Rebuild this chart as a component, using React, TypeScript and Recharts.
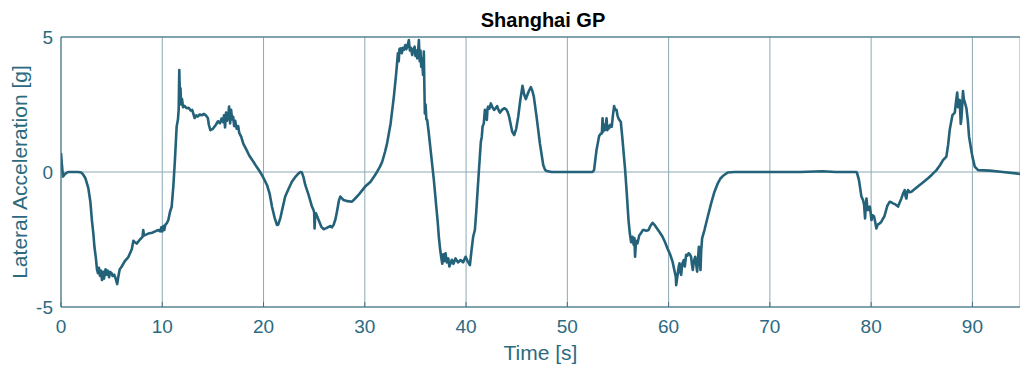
import { LineChart, Line, XAxis, YAxis, CartesianGrid } from "recharts";

// Lateral acceleration trace for one lap, [time s, accel g]
const lapStart: [number, number][] = [
  [0, 0.7], [0.08, 0.3], [0.2, -0.17], [0.4, -0.07], [0.7, 0], [1.2, 0], [1.7, 0], [2.0, -0.02],
  [2.2, -0.1], [2.4, -0.22], [2.7, -0.6], [2.9, -1.1], [3.05, -1.78], [3.2, -2.3], [3.3, -2.77],
  [3.45, -3.2], [3.55, -3.6], [3.65, -3.75], [3.75, -3.55], [3.85, -3.85], [3.95, -3.65],
  [4.05, -4.0], [4.15, -3.7], [4.25, -3.95], [4.4, -3.6], [4.5, -3.8], [4.6, -3.65], [4.75, -3.9],
  [4.85, -3.7], [5.0, -3.75], [5.1, -3.85], [5.25, -3.8], [5.4, -3.95], [5.55, -4.15], [5.65, -3.9],
  [5.8, -3.6], [6.0, -3.5], [6.3, -3.3], [6.65, -3.15], [7.0, -2.85], [7.14, -2.55], [7.3, -2.6],
  [7.47, -2.65], [7.8, -2.5], [8.05, -2.4], [8.12, -2.15], [8.2, -2.35], [8.4, -2.32], [8.62, -2.28],
  [9.0, -2.25], [9.3, -2.2], [9.6, -2.15], [9.8, -2.2], [9.9, -2.05], [10.0, -2.2], [10.1, -2.0],
  [10.2, -2.15], [10.3, -1.95], [10.45, -1.9], [10.6, -1.78], [10.75, -1.5], [10.93, -1.28],
  [11.09, -0.54], [11.25, 0.44],
];

const turns6to10: [number, number][] = [
  [11.42, 1.68], [11.55, 1.95], [11.62, 2.3], [11.68, 3.78], [11.74, 2.8], [11.8, 3.1], [11.86, 2.5],
  [11.95, 2.7], [12.05, 2.4], [12.2, 2.45], [12.4, 2.36], [12.6, 2.38], [12.8, 2.28], [12.95, 2.3],
  [13.1, 2.12], [13.2, 2.0], [13.35, 2.1], [13.5, 2.05], [13.7, 2.13], [13.9, 2.1], [14.1, 2.15],
  [14.3, 2.1], [14.5, 2.0], [14.6, 1.75], [14.75, 1.55], [15.0, 1.6], [15.3, 1.75], [15.5, 1.88],
  [15.7, 1.8], [15.85, 1.98], [16.0, 1.85], [16.1, 2.1], [16.2, 1.65], [16.3, 2.2], [16.4, 1.9],
  [16.5, 2.05], [16.6, 2.42], [16.7, 1.8], [16.8, 2.3], [16.9, 1.95], [17.0, 2.05], [17.1, 1.7],
  [17.2, 1.9], [17.35, 1.6], [17.5, 1.7], [17.6, 1.45], [17.8, 1.3], [18.0, 1.05], [18.33, 0.81],
  [18.6, 0.6], [19.0, 0.38], [19.3, 0.2], [19.65, 0.01], [19.9, -0.15], [20.1, -0.3], [20.34, -0.48],
  [20.6, -0.8], [20.83, -1.28], [21.1, -1.7], [21.32, -1.96], [21.45, -1.95], [21.65, -1.72],
  [21.9, -1.3], [22.14, -0.91], [22.5, -0.6], [22.8, -0.36], [23.1, -0.2], [23.46, -0.05],
  [23.65, 0.0], [23.79, -0.02], [23.95, -0.2], [24.12, -0.48], [24.45, -0.85], [24.78, -1.28],
  [24.94, -1.41], [25.0, -1.5], [25.04, -2.09], [25.1, -1.6], [25.17, -1.53], [25.3, -1.65],
  [25.44, -1.78], [25.7, -2.02], [25.93, -2.12], [26.2, -2.08], [26.43, -2.03], [26.6, -2.0],
  [26.75, -2.05], [26.92, -1.96], [27.1, -1.75], [27.25, -1.47], [27.45, -1.05], [27.58, -0.91],
  [27.75, -0.98], [27.9, -1.04], [28.3, -1.08], [28.73, -1.1], [29.0, -1.0], [29.38, -0.85],
  [29.7, -0.7], [30.04, -0.54], [30.57, -0.36], [31.0, -0.12], [31.22, 0.01], [31.5, 0.2],
  [31.72, 0.38], [32.0, 0.75], [32.2, 1.06], [32.55, 1.8], [32.87, 2.79], [33.1, 3.65],
];

const turns11to13: [number, number][] = [
  [33.27, 4.4], [33.35, 4.1], [33.42, 4.55], [33.53, 4.58], [33.65, 4.4], [33.75, 4.6], [33.86, 4.52],
  [34.0, 4.7], [34.1, 4.55], [34.2, 4.65], [34.35, 4.89], [34.45, 4.5], [34.55, 4.6], [34.68, 4.33],
  [34.8, 4.55], [34.92, 4.64], [35.0, 4.3], [35.1, 4.5], [35.18, 4.21], [35.25, 4.4], [35.34, 4.89],
  [35.42, 4.1], [35.5, 4.5], [35.57, 3.9], [35.65, 4.2], [35.75, 3.6], [35.83, 4.46], [35.88, 3.2],
  [35.93, 2.17], [36.0, 2.5], [36.08, 1.95], [36.16, 1.93], [36.3, 1.5], [36.5, 0.81], [36.82, -0.3],
  [37.09, -1.41], [37.2, -1.85], [37.31, -2.4], [37.45, -2.9], [37.54, -3.14], [37.65, -3.4],
  [37.75, -3.05], [37.85, -3.3], [37.97, -3.01], [38.1, -3.35], [38.25, -3.2], [38.35, -3.5],
  [38.47, -3.38], [38.6, -3.25], [38.75, -3.4], [38.96, -3.2], [39.2, -3.35], [39.46, -3.26],
  [39.7, -3.35], [39.95, -3.14], [40.15, -3.3], [40.38, -3.45], [40.54, -2.89], [40.7, -2.4],
  [40.87, -2.15], [41.0, -1.5], [41.1, -0.91], [41.26, 0.01], [41.46, 1.12], [41.55, 1.3],
  [41.63, 1.68], [41.75, 1.8], [41.86, 2.3], [41.95, 2.1], [42.05, 1.93], [42.12, 2.35],
  [42.18, 2.42], [42.3, 2.35], [42.45, 2.54], [42.6, 2.4], [42.78, 2.3], [42.9, 2.35], [43.07, 2.44],
  [43.2, 2.3], [43.34, 2.2], [43.55, 2.3], [43.76, 2.36], [43.95, 2.33], [44.1, 2.23], [44.25, 2.05],
  [44.39, 1.8], [44.55, 1.5], [44.75, 1.37], [44.95, 1.6], [45.15, 2.05], [45.35, 2.65],
  [45.57, 3.19], [45.75, 2.85], [45.9, 2.7], [46.05, 2.85], [46.2, 3.0], [46.4, 3.14], [46.55, 3.0],
  [46.69, 2.79], [46.96, 2.05], [47.29, 1.06], [47.62, 0.26], [47.8, 0.08], [47.95, 0.04],
  [48.44, 0.0], [50.0, 0.0], [52.48, 0.0],
];

const turns14to16: [number, number][] = [
  [52.64, 0.07], [52.88, 0.81], [53.14, 1.33], [53.3, 1.42], [53.41, 1.43], [53.48, 1.99], [53.55, 1.5],
  [53.65, 1.75], [53.73, 1.56], [53.8, 1.7], [53.87, 1.99], [53.95, 1.55], [54.05, 1.7], [54.13, 1.62],
  [54.25, 1.75], [54.39, 1.68], [54.5, 2.1], [54.62, 2.44], [54.72, 2.3], [54.86, 2.3], [54.95, 2.1],
  [55.05, 1.99], [55.18, 1.9], [55.28, 1.86], [55.45, 1.19], [55.71, 0.07], [55.87, -0.79],
  [56.04, -1.78], [56.17, -2.27], [56.3, -2.6], [56.43, -2.4], [56.55, -2.7], [56.62, -2.45],
  [56.69, -3.14], [56.78, -2.55], [56.93, -2.64], [57.1, -2.35], [57.26, -2.27], [57.45, -2.15],
  [57.59, -2.15], [57.8, -2.18], [58.02, -2.15], [58.2, -2.0], [58.42, -1.88], [58.65, -1.98],
  [58.91, -2.12], [59.15, -2.25], [59.4, -2.4], [59.65, -2.6], [59.89, -2.83], [60.15, -3.05],
  [60.39, -3.32], [60.55, -3.6], [60.71, -3.88], [60.75, -4.19], [60.85, -3.9], [60.91, -3.75],
  [61.0, -3.5], [61.08, -3.38], [61.16, -3.7], [61.24, -3.81], [61.35, -3.4], [61.5, -3.26],
  [61.6, -3.5], [61.73, -3.07], [61.85, -3.1], [61.97, -3.01], [62.1, -3.05], [62.22, -3.14],
  [62.3, -3.4], [62.39, -3.63], [62.5, -3.3], [62.62, -3.14], [62.72, -3.4], [62.82, -3.69],
  [62.9, -3.2], [62.99, -2.77], [63.07, -3.3], [63.15, -3.63], [63.22, -2.9], [63.31, -2.46],
  [63.54, -2.15], [63.87, -1.65], [64.2, -1.16], [64.53, -0.73], [64.86, -0.42], [65.1, -0.25],
  [65.35, -0.15], [65.84, -0.02], [66.5, 0.0], [70.0, 0.0], [73.0, 0.0], [75.2, 0.03], [76.5, 0.0],
  [78.5, 0.0],
];

const hairpinToFinish: [number, number][] = [
  [78.6, -0.02], [78.8, -0.3], [79.04, -0.91], [79.2, -1.04], [79.3, -1.2], [79.4, -1.72], [79.47, -1.3],
  [79.54, -0.98], [79.62, -1.3], [79.7, -1.41], [79.86, -1.28], [79.95, -1.5], [80.03, -1.78],
  [80.15, -1.6], [80.29, -1.65], [80.4, -1.85], [80.52, -2.09], [80.65, -1.95], [80.85, -1.9],
  [81.0, -1.85], [81.18, -1.72], [81.3, -1.65], [81.44, -1.47], [81.6, -1.25], [81.84, -1.1],
  [82.0, -1.12], [82.16, -1.16], [82.4, -1.2], [82.66, -1.28], [82.85, -1.1], [82.99, -0.98],
  [83.15, -0.8], [83.32, -0.67], [83.4, -0.9], [83.48, -0.98], [83.56, -0.75], [83.64, -0.67],
  [83.8, -0.75], [83.98, -0.73], [84.4, -0.6], [84.8, -0.48], [85.2, -0.36], [85.62, -0.23],
  [86.0, -0.1], [86.45, 0.07], [86.8, 0.25], [87.1, 0.44], [87.43, 0.57], [87.6, 1.0], [87.76, 1.56],
  [88.03, 2.11], [88.26, 2.2], [88.35, 2.5], [88.5, 2.94], [88.58, 2.4], [88.67, 2.5], [88.75, 2.67],
  [88.85, 1.78], [88.92, 2.0], [89.0, 2.5], [89.07, 3.0], [89.15, 2.7], [89.24, 2.6], [89.41, 2.36],
  [89.55, 1.9], [89.67, 1.31], [89.85, 0.9], [90.0, 0.57], [90.23, 0.2], [90.56, 0.07], [91.7, 0.05],
  [93.0, 0.0], [94.7, -0.07],
];

const timeTicks = [0, 10, 20, 30, 40, 50, 60, 70, 80, 90];
const accelTicks = [-5, 0, 5];
const lapEnd = 94.7;

const data = [...lapStart, ...turns6to10, ...turns11to13, ...turns14to16, ...hairpinToFinish].map(
  ([t, g]) => ({ t, g })
);

const FONT = '"Liberation Sans", Arial, Helvetica, sans-serif';
const TEXT = "#2c6a80";
const AXIS = "#3f7083";
const GRID = "#8ca9b5";
const TRACE = "#24627a";

const YLabel = () => (
  <text
    x={27}
    y={172}
    transform="rotate(-90, 27, 172)"
    textAnchor="middle"
    fill={TEXT}
    fontSize={21}
    fontFamily={FONT}
  >
    Lateral Acceleration [g]
  </text>
);

export default function App() {
  return (
    <div style={{ position: "absolute", left: 0, top: 0, width: 1020, height: 368, background: "#fff" }}>
      <LineChart width={1020} height={368} data={data} margin={{ top: 27, right: 0, bottom: 0, left: 0 }}>
        <text x={543} y={27} textAnchor="middle" fontSize={20} fontWeight="bold" fontFamily={FONT} fill="#000">
          Shanghai GP
        </text>
        <CartesianGrid stroke={GRID} strokeWidth={1} verticalPoints={undefined} />
        <XAxis
          dataKey="t"
          type="number"
          domain={[0, lapEnd]}
          ticks={timeTicks}
          allowDataOverflow
          height={61}
          stroke={AXIS}
          tickSize={-5}
          tickMargin={18}
          tick={{ fill: TEXT, fontSize: 19, fontFamily: FONT }}
          label={{ value: "Time [s]", position: "insideBottom", offset: 8, fill: TEXT, fontSize: 21, fontFamily: FONT }}
        />
        <XAxis
          xAxisId="top"
          orientation="top"
          dataKey="t"
          type="number"
          domain={[0, lapEnd]}
          ticks={timeTicks}
          allowDataOverflow
          height={10}
          stroke={AXIS}
          tickSize={-5}
          tick={false}
        />
        <YAxis
          type="number"
          domain={[-5, 5]}
          ticks={accelTicks}
          width={61}
          stroke={AXIS}
          tickLine={false}
          tick={{ fill: TEXT, fontSize: 19, fontFamily: FONT }}
          label={<YLabel />}
        />
        <Line
          type="linear"
          dataKey="g"
          stroke={TRACE}
          strokeWidth={2.6}
          dot={false}
          isAnimationActive={false}
          strokeLinejoin="round"
        />
      </LineChart>
    </div>
  );
}
